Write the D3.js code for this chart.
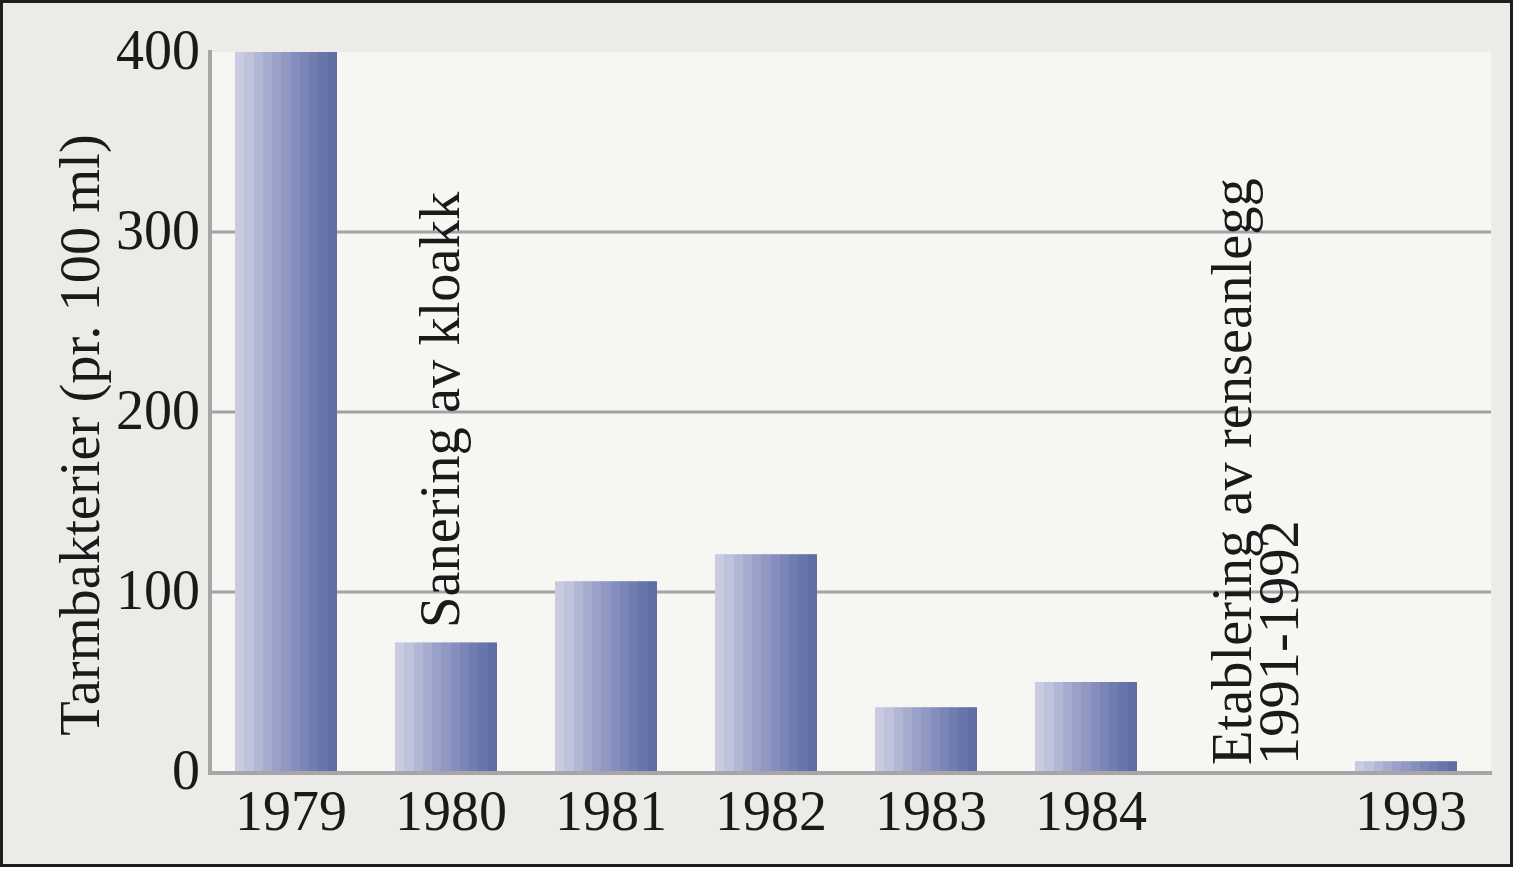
<!DOCTYPE html>
<html>
<head>
<meta charset="utf-8">
<script src="https://cdn.jsdelivr.net/npm/d3@7"></script>
<style>
  html, body { margin: 0; padding: 0; background: #ffffff; }
  svg { display: block; }
  text { font-family: "Liberation Serif", "DejaVu Serif", serif; fill: #1a1a1a; }
</style>
</head>
<body>
<svg id="chart" width="1514" height="869"></svg>
<script>
// ---- data ----
const categories = ["1979", "1980", "1981", "1982", "1983", "1984", "1991-1992", "1993"];
const values = [400, 72, 106, 121, 36, 50, null, 6];
const xTickLabels = ["1979", "1980", "1981", "1982", "1983", "1984", "", "1993"];
const yTicks = [0, 100, 200, 300, 400];
const gridTicks = [100, 200, 300];
const yTitle = "Tarmbakterier (pr. 100 ml)";
const annotation1Lines = ["Sanering av kloakk"];
const annotation2Lines = ["Etablering av renseanlegg", "1991-1992"];

// ---- style ----
const stripeColors = ["#c9cce1", "#bec2db", "#b2b7d5", "#a6accf", "#9ba2c9", "#9098c3",
                      "#858ebc", "#7b85b6", "#717cb0", "#6875aa", "#5f6ea4"];

const svg = d3.select("#chart");
const W = 1514, H = 869;

// background and frame
svg.append("rect").attr("x", 0).attr("y", 0).attr("width", W).attr("height", H).attr("fill", "#ffffff");
svg.append("rect").attr("x", 1.5).attr("y", 1.5).attr("width", 1510).attr("height", 864)
  .attr("fill", "#ecebe7").attr("stroke", "#1e1e1e").attr("stroke-width", 3);

const x = d3.scaleBand().domain(categories).range([177, 1515]).padding(0.3625);
const y = d3.scaleLinear().domain([0, 400]).range([772, 52]);

const plotLeft = 212, plotRight = 1491;

// plot area
svg.append("rect").attr("x", plotLeft).attr("y", y(400)).attr("width", plotRight - plotLeft)
  .attr("height", y(0) - y(400)).attr("fill", "#f6f6f3");

// gradient definition (stepped)
const defs = svg.append("defs");
const grad = defs.append("linearGradient").attr("id", "barGrad")
  .attr("x1", "0%").attr("x2", "100%").attr("y1", "0%").attr("y2", "0%");
stripeColors.forEach((c, i) => {
  const n = stripeColors.length;
  grad.append("stop").attr("offset", (i / n * 100) + "%").attr("stop-color", c);
  grad.append("stop").attr("offset", ((i + 1) / n * 100) + "%").attr("stop-color", c);
});

// gridlines
svg.append("g").selectAll("line").data(gridTicks).join("line")
  .attr("x1", plotLeft).attr("x2", plotRight)
  .attr("y1", d => y(d)).attr("y2", d => y(d))
  .attr("stroke", "#a2a2a6").attr("stroke-width", 3);

// bars
const barData = categories.map((c, i) => ({ c, v: values[i] })).filter(d => d.v != null);
svg.append("g").selectAll("rect").data(barData).join("rect")
  .attr("x", d => x(d.c)).attr("width", x.bandwidth())
  .attr("y", d => y(d.v)).attr("height", d => y(0) - y(d.v))
  .attr("fill", "url(#barGrad)");

// axes lines
svg.append("line").attr("x1", 210).attr("x2", 210).attr("y1", 50).attr("y2", 775)
  .attr("stroke", "#a6a6a9").attr("stroke-width", 4);
svg.append("line").attr("x1", 208).attr("x2", plotRight + 1).attr("y1", 773).attr("y2", 773)
  .attr("stroke", "#a6a6a9").attr("stroke-width", 4);

// y axis labels via d3 axis
const yAxis = d3.axisLeft(y).tickValues(yTicks).tickSize(0).tickPadding(10).tickFormat(d3.format("d"));
const gy = svg.append("g").attr("transform", "translate(200,0)").call(yAxis);
gy.select(".domain").remove();
gy.selectAll("text").attr("font-size", 56).attr("font-family", "Liberation Serif").attr("fill", "#1a1a1a")
  .attr("x", 0).attr("dy", "0.30em");

// x axis labels via d3 axis
const xAxis = d3.axisBottom(x).tickSize(0).tickPadding(0).tickFormat((d, i) => xTickLabels[i]);
const gx = svg.append("g").attr("transform", "translate(5,790)").call(xAxis);
gx.select(".domain").remove();
gx.selectAll("text").attr("font-size", 56).attr("font-family", "Liberation Serif").attr("fill", "#1a1a1a")
  .attr("dy", "0.71em");

// y title
svg.append("text").attr("transform", "translate(99,435) rotate(-90)")
  .attr("text-anchor", "middle").attr("font-size", 56.5).text(yTitle);

// annotations
const a1x = x("1980") + x.bandwidth() / 2 + 13;
svg.append("text").attr("transform", `translate(${a1x},628) rotate(-90)`)
  .attr("text-anchor", "start").attr("font-size", 56.5).text(annotation1Lines[0]);

const a2x = x("1991-1992") + x.bandwidth() / 2 + 5;
const t2 = svg.append("text").attr("transform", `translate(${a2x},765) rotate(-90)`)
  .attr("text-anchor", "start").attr("font-size", 56.5);
annotation2Lines.forEach((l, i) => {
  t2.append("tspan").attr("x", 0).attr("y", i * 47).text(l);
});
</script>
</body>
</html>
